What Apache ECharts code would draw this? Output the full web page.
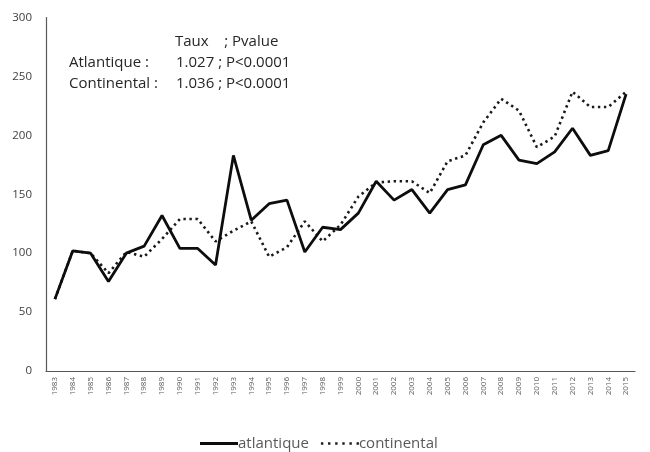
<!DOCTYPE html>
<html>
<head>
<meta charset="utf-8">
<script src="https://cdn.jsdelivr.net/npm/echarts@6/dist/echarts.min.js"></script>
<style>
  html, body { margin: 0; padding: 0; background: #fff; }
  #chart { width: 650px; height: 452px; }
</style>
</head>
<body>
<div id="chart"></div>
<script>
// Years on the category axis
const years = [
  '1983','1984','1985','1986','1987','1988','1989','1990','1991','1992','1993',
  '1994','1995','1996','1997','1998','1999','2000','2001','2002','2003','2004',
  '2005','2006','2007','2008','2009','2010','2011','2012','2013','2014','2015'
];

// Annual values per climatic zone
const atlantique = [
  61, 102, 100, 76, 100, 106, 132, 104, 104, 90, 183,
  128, 142, 145, 101, 122, 120, 134, 161, 145, 154, 134,
  154, 158, 192, 200, 179, 176, 186, 206, 183, 187, 235
];
const continental = [
  61, 102, 100, 83, 101, 97, 112, 129, 129, 110, 119,
  127, 97, 105, 127, 110, 124, 148, 160, 161, 161, 151,
  178, 183, 211, 231, 221, 190, 199, 237, 224, 224, 237
];

// Trend rates and p-values shown in the upper-left block
const statHeader = 'Taux    ; Pvalue';
const statRows = [
  { zone: 'Atlantique :', value: '1.027 ; P<0.0001' },
  { zone: 'Continental :', value: '1.036 ; P<0.0001' }
];

const yTicks = { min: 0, max: 300, interval: 50 };

const FONT = '"Open Sans", Lato, sans-serif';
const STAT_FONT = '15px ' + FONT;
const chart = echarts.init(document.getElementById('chart'), null, { renderer: 'canvas' });

const statText = [
  { type: 'text', left: 175, top: 34, style: { text: statHeader, font: STAT_FONT, fill: '#262626' } }
];
statRows.forEach((r, i) => {
  statText.push({ type: 'text', left: 69, top: 55 + i * 21, style: { text: r.zone, font: STAT_FONT, fill: '#262626' } });
  statText.push({ type: 'text', left: 176, top: 55 + i * 21, style: { text: r.value, font: STAT_FONT, fill: '#262626' } });
});

// Legend swatches: a solid bar and a row of dots
const solidIcon = 'path://M0,0H38V3H0Z';
const dottedIcon = 'path://M0,0h2v2h-2z M6,0h2v2h-2z M12,0h2v2h-2z M18,0h2v2h-2z M24,0h2v2h-2z M30,0h2v2h-2z';

chart.setOption({
  animation: false,
  backgroundColor: '#ffffff',
  textStyle: { fontFamily: FONT },
  grid: { left: 46, right: 15, top: 17.5, bottom: 81, containLabel: false },
  xAxis: {
    type: 'category',
    data: years,
    boundaryGap: true,
    axisLine: { lineStyle: { color: '#595959', width: 1.2 } },
    axisTick: { show: false },
    axisLabel: { rotate: 90, fontSize: 8, color: '#595959', margin: 6, interval: 0 }
  },
  yAxis: {
    type: 'value',
    min: yTicks.min,
    max: yTicks.max,
    interval: yTicks.interval,
    axisLine: { show: true, lineStyle: { color: '#595959', width: 1.2 } },
    axisTick: { show: false },
    splitLine: { show: false },
    axisLabel: { fontSize: 11.5, color: '#404040', margin: 14 }
  },
  legend: {
    top: 431,
    left: 195,
    itemGap: 12,
    textStyle: { fontSize: 15, color: '#595959', fontFamily: FONT, padding: [0, 0, 0, -5] },
    data: [
      { name: 'atlantique', icon: solidIcon, itemWidth: 38, itemHeight: 3 },
      { name: 'continental', icon: dottedIcon, itemWidth: 32, itemHeight: 2 }
    ],
    itemWidth: 38,
    itemHeight: 3
  },
  graphic: statText,
  series: [
    {
      name: 'continental',
      type: 'line',
      data: continental,
      symbol: 'none',
      z: 2,
      lineStyle: { color: '#1a1a1a', width: 2.6, type: [2.4, 3.6], cap: 'butt' },
      itemStyle: { color: '#1a1a1a' }
    },
    {
      name: 'atlantique',
      type: 'line',
      data: atlantique,
      symbol: 'none',
      z: 3,
      lineStyle: { color: '#0d0d0d', width: 2.8 },
      itemStyle: { color: '#0d0d0d' }
    }
  ]
});
</script>
</body>
</html>
